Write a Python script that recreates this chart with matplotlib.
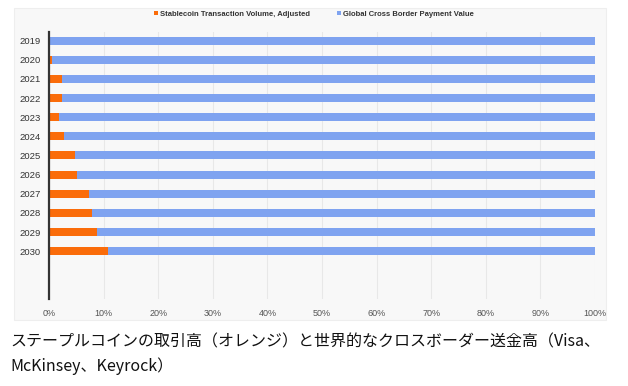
import matplotlib.pyplot as plt
import matplotlib.patches as mpatches
import numpy as np

plt.rcParams['font.family'] = ['Noto Sans CJK JP', 'DejaVu Sans']

years = ['2019', '2020', '2021', '2022', '2023', '2024',
         '2025', '2026', '2027', '2028', '2029', '2030']
stablecoin = [0.15, 0.5, 2.45, 2.45, 1.9, 2.8, 4.8, 5.2, 7.4, 7.9, 8.7, 10.8]
cross_border = [100 - v for v in stablecoin]
ticks = [0, 10, 20, 30, 40, 50, 60, 70, 80, 90, 100]

orange = '#fa6c0a'
blue = '#7fa3f0'
latin = ['Liberation Sans', 'DejaVu Sans']

fig = plt.figure(figsize=(6.28, 3.86), dpi=100)

# light panel behind the chart
panel = mpatches.Rectangle((14 / 628, 1 - 320 / 386), 592 / 628, 312 / 386,
                           transform=fig.transFigure, facecolor='#f8f8f8',
                           edgecolor='#eeeeee', lw=0.8, zorder=-5)
fig.patches.append(panel)

ax = fig.add_axes([49 / 628, 1 - 299 / 386, 546 / 628, 267 / 386])
ax.set_facecolor('none')

y = np.arange(len(years))
ax.barh(y, stablecoin, height=0.42, color=orange,
        label='Stablecoin Transaction Volume, Adjusted', zorder=3)
ax.barh(y, cross_border, left=stablecoin, height=0.42, color=blue,
        label='Global Cross Border Payment Value', zorder=3)

ax.set_ylim(13.5, -0.45)
ax.set_xlim(0, 100)
ax.set_yticks(y)
ax.set_yticklabels(years, fontsize=6.8, color='#333333', family=latin)
ax.set_xticks(ticks)
ax.set_xticklabels([f'{t}%' for t in ticks], fontsize=6.5, color='#555555', family=latin)
ax.tick_params(axis='y', length=0, pad=6)
ax.tick_params(axis='x', length=0, pad=7)

ax.grid(axis='x', color='#e8e8e8', lw=0.8, zorder=0)
for s in ['top', 'right', 'bottom']:
    ax.spines[s].set_visible(False)
ax.spines['left'].set_color('#333333')
ax.spines['left'].set_linewidth(1.6)
ax.spines['left'].set_zorder(4)

leg = fig.legend(loc='center', bbox_to_anchor=(0.5, 1 - 14 / 386), ncol=2, frameon=False,
                 handlelength=0.5, handleheight=0.5, handletextpad=0.3, columnspacing=3.5,
                 prop={'weight': 'bold', 'size': 5.5, 'family': latin})
for t in leg.get_texts():
    t.set_color('#333333')

fig.text(10 / 628, 1 - 342 / 386,
         'ステープルコインの取引高（オレンジ）と世界的なクロスボーダー送金高（Visa、',
         fontsize=11.5, va='center', ha='left', color='#111111')
fig.text(10 / 628, 1 - 366 / 386, 'McKinsey、Keyrock）',
         fontsize=11.5, va='center', ha='left', color='#111111')

fig.savefig('out.png', dpi=100)
